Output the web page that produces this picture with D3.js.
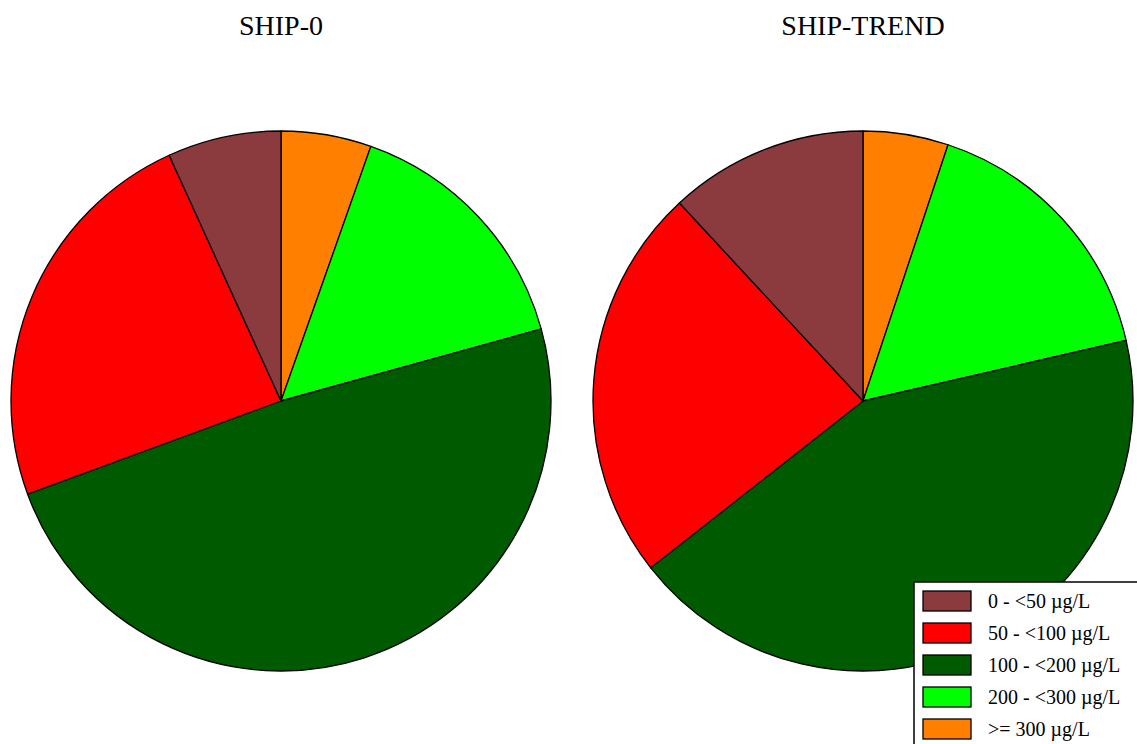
<!DOCTYPE html>
<html>
<head>
<meta charset="utf-8">
<script src="https://cdn.jsdelivr.net/npm/d3@7"></script>
<style>
html,body{margin:0;padding:0;background:#fff;}
svg{display:block;}
</style>
</head>
<body>
<svg id="chart" width="1137" height="744"></svg>
<script>
// Categories (legend order)
const categories = ["0 - <50 µg/L", "50 - <100 µg/L", "100 - <200 µg/L", "200 - <300 µg/L", ">= 300 µg/L"];
const colors = ["#8b3a3e", "#ff0000", "#005a00", "#00ff00", "#ff8000"];
const panels = ["SHIP-0", "SHIP-TREND"];
// Percentages per category (legend order)
const ship0 = [6.8, 23.8, 48.7, 15.3, 5.4];
const shipTrend = [11.9, 23.7, 43.0, 16.3, 5.1];
const seriesValues = [ship0, shipTrend];

const svg = d3.select("#chart");
const W = 1137, H = 744;
const R = 270;
const cx = d3.scalePoint().domain(panels).range([281, 863]);
const cy = 401;

// Pies are drawn clockwise from 12 o'clock starting with the last category
const pie = d3.pie().sort(null).value(d => d.v);
const arc = d3.arc().innerRadius(0).outerRadius(R);

panels.forEach((p, i) => {
  const vals = seriesValues[i];
  const data = categories.map((c, k) => ({c, v: vals[k], col: colors[k]})).reverse();
  const g = svg.append("g").attr("transform", `translate(${cx(p)},${cy})`);
  g.selectAll("path").data(pie(data)).join("path")
    .attr("d", arc)
    .attr("fill", d => d.data.col)
    .attr("stroke", "#000")
    .attr("stroke-width", 1.3)
    .attr("stroke-linejoin", "round");
  svg.append("text")
    .attr("x", cx(p)).attr("y", 35)
    .attr("text-anchor", "middle")
    .attr("font-family", "'Liberation Serif', 'Times New Roman', serif")
    .attr("font-size", 28)
    .attr("fill", "#000")
    .text(p);
});

// Legend
const lg = svg.append("g");
lg.append("rect").attr("x", 914).attr("y", 582).attr("width", 260).attr("height", 200)
  .attr("fill", "#fff").attr("stroke", "#000").attr("stroke-width", 1.5);
const ly = d3.scaleLinear().domain([0, 1]).range([601, 633]);
categories.forEach((c, k) => {
  lg.append("rect").attr("x", 923).attr("y", ly(k) - 10).attr("width", 48).attr("height", 20)
    .attr("fill", colors[k]).attr("stroke", "#000").attr("stroke-width", 1.3);
  lg.append("text").attr("x", 988).attr("y", ly(k) + 7)
    .attr("font-family", "'Liberation Serif', 'Times New Roman', serif")
    .attr("font-size", 20).attr("fill", "#000").text(c);
});
</script>
</body>
</html>
